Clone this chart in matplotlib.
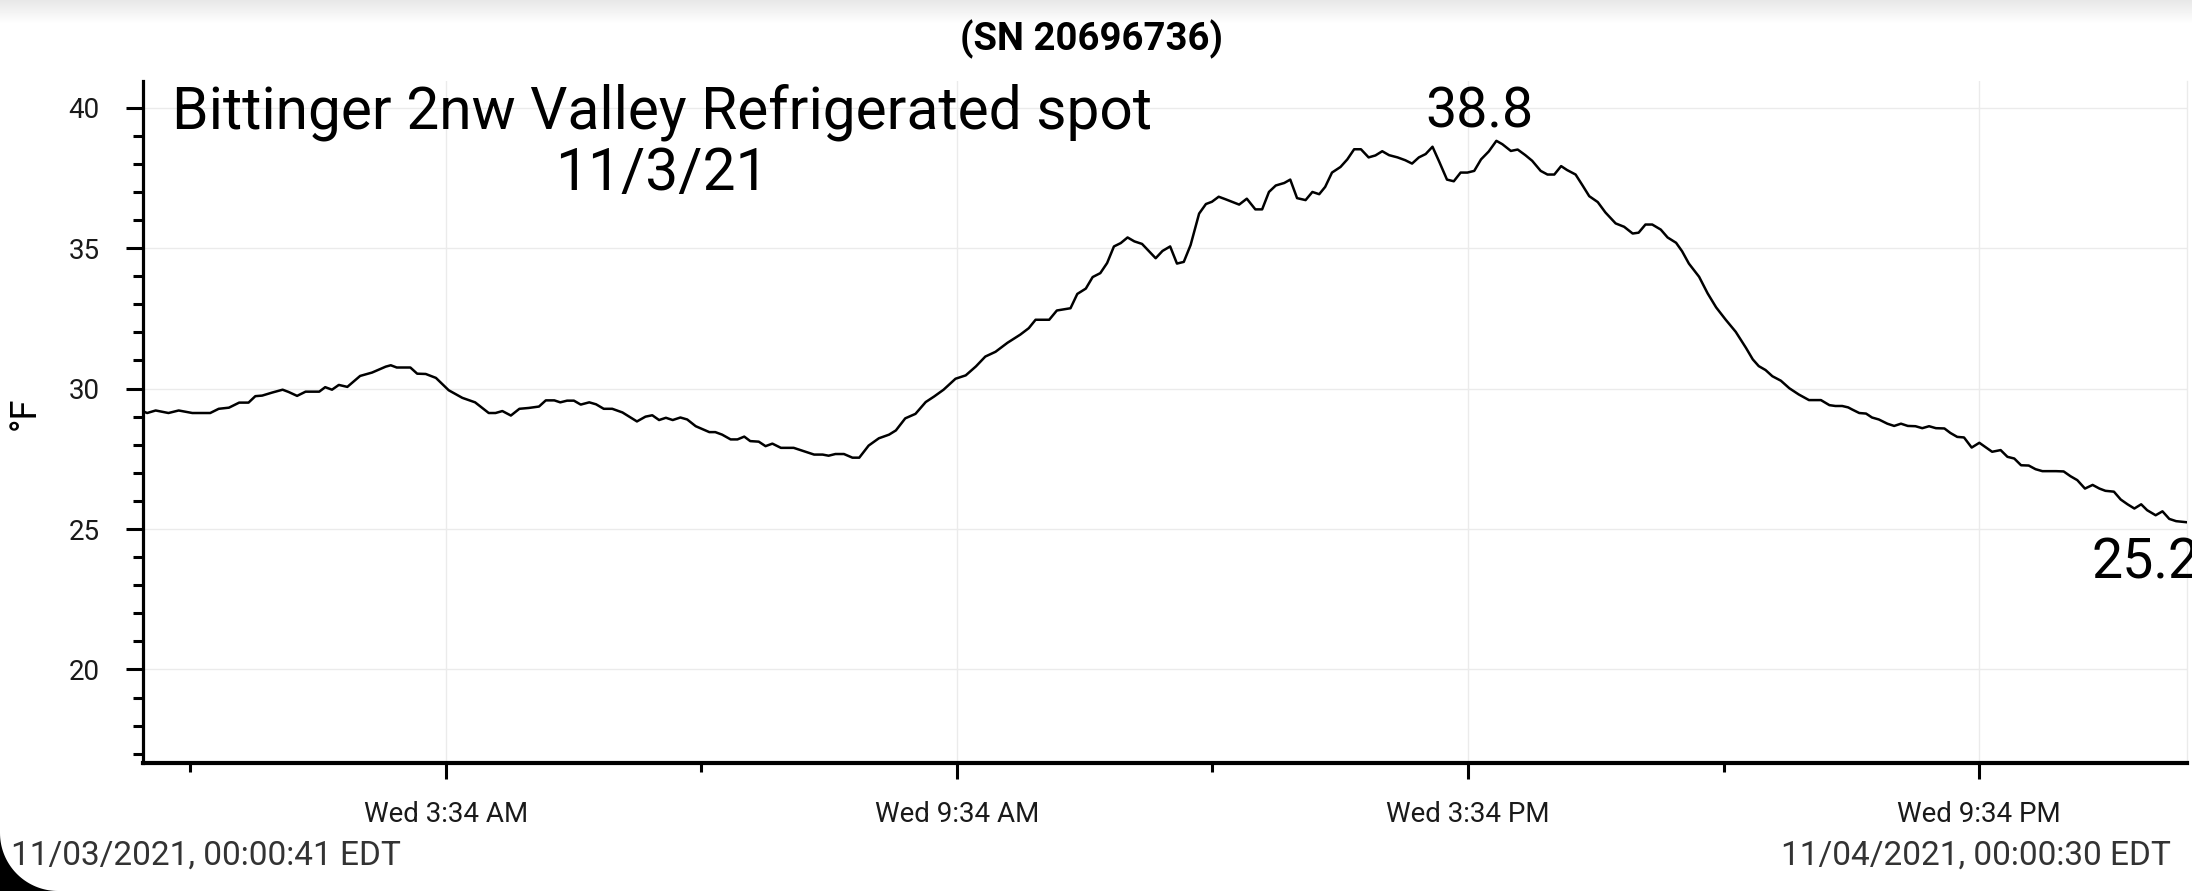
#!/usr/bin/env python3

import numpy as np
import pandas as pd
import matplotlib
matplotlib.use("Agg")
import matplotlib.pyplot as plt
import matplotlib.dates as mdates
from matplotlib.ticker import MultipleLocator
from matplotlib.patches import Polygon

# Logger readings, 11/3/21 (hours after midnight, deg F)
hours = [
    0.011, 0.06, 0.16, 0.31, 0.43, 0.59, 0.80, 0.90, 1.02, 1.14, 1.25, 1.33, 1.41, 1.53,
    1.65, 1.72, 1.82, 1.92, 2.08, 2.15, 2.23, 2.31, 2.41, 2.56, 2.70, 2.86, 2.92, 2.99,
    3.15, 3.23, 3.33, 3.45, 3.60, 3.76, 3.91, 4.07, 4.15, 4.23, 4.33, 4.43, 4.54, 4.66,
    4.74, 4.84, 4.91, 4.99, 5.07, 5.15, 5.25, 5.33, 5.42, 5.52, 5.64, 5.72, 5.81, 5.91,
    5.99, 6.07, 6.15, 6.23, 6.32, 6.40, 6.50, 6.66, 6.73, 6.81, 6.91, 6.99, 7.07, 7.14,
    7.24, 7.32, 7.40, 7.50, 7.65, 7.77, 7.89, 7.99, 8.06, 8.14, 8.24, 8.34, 8.42, 8.53,
    8.65, 8.77, 8.85, 8.96, 9.08, 9.20, 9.30, 9.41, 9.55, 9.67, 9.79, 9.90, 10.02, 10.16,
    10.31, 10.41, 10.49, 10.65, 10.74, 10.90, 10.98, 11.08, 11.16, 11.25, 11.33, 11.41,
    11.49, 11.57, 11.65, 11.74, 11.90, 11.98, 12.07, 12.15, 12.23, 12.31, 12.41, 12.49,
    12.56, 12.64, 12.72, 12.88, 12.97, 13.07, 13.15, 13.23, 13.31, 13.41, 13.48, 13.56,
    13.66, 13.74, 13.82, 13.89, 13.97, 14.07, 14.15, 14.23, 14.31, 14.40, 14.48, 14.56,
    14.64, 14.74, 14.83, 14.91, 14.99, 15.07, 15.15, 15.23, 15.32, 15.40, 15.48, 15.56,
    15.64, 15.72, 15.81, 15.90, 15.97, 16.07, 16.15, 16.24, 16.32, 16.42, 16.50, 16.58,
    16.66, 16.73, 16.83, 16.91, 16.99, 17.09, 17.18, 17.30, 17.40, 17.50, 17.57, 17.65,
    17.73, 17.83, 17.91, 18.01, 18.08, 18.16, 18.28, 18.38, 18.48, 18.59, 18.71, 18.83,
    18.91, 18.98, 19.06, 19.14, 19.24, 19.34, 19.45, 19.57, 19.71, 19.81, 19.88, 19.96,
    20.03, 20.08, 20.16, 20.24, 20.31, 20.39, 20.49, 20.57, 20.65, 20.73, 20.82, 20.90,
    20.98, 21.06, 21.16, 21.23, 21.31, 21.39, 21.48, 21.57, 21.65, 21.72, 21.82, 21.90,
    21.98, 22.06, 22.15, 22.23, 22.31, 22.39, 22.47, 22.56, 22.64, 22.72, 22.81, 22.90,
    22.98, 23.05, 23.15, 23.23, 23.31, 23.39, 23.47, 23.54, 23.64, 23.72, 23.80, 23.88,
    24.008,
]
temps = [
    29.19, 29.13, 29.22, 29.13, 29.22, 29.13, 29.13, 29.28, 29.32, 29.50, 29.50, 29.73, 29.75, 29.86,
    29.96, 29.88, 29.74, 29.89, 29.89, 30.05, 29.96, 30.13, 30.06, 30.45, 30.57, 30.78, 30.83, 30.75,
    30.75, 30.53, 30.52, 30.38, 29.94, 29.67, 29.51, 29.13, 29.13, 29.20, 29.04, 29.28, 29.31, 29.36,
    29.58, 29.58, 29.51, 29.57, 29.57, 29.43, 29.51, 29.44, 29.28, 29.28, 29.15, 29.00, 28.83, 29.00,
    29.05, 28.88, 28.96, 28.88, 28.97, 28.90, 28.66, 28.45, 28.45, 28.36, 28.19, 28.19, 28.29, 28.13,
    28.11, 27.95, 28.04, 27.89, 27.89, 27.77, 27.65, 27.65, 27.61, 27.67, 27.67, 27.54, 27.54, 27.97,
    28.23, 28.36, 28.51, 28.94, 29.10, 29.52, 29.72, 29.96, 30.35, 30.47, 30.79, 31.14, 31.31, 31.63,
    31.92, 32.15, 32.45, 32.45, 32.78, 32.86, 33.37, 33.56, 33.97, 34.11, 34.47, 35.06,
    35.18, 35.38, 35.24, 35.15, 34.64, 34.90, 35.06, 34.45, 34.51, 35.11, 36.23, 36.57,
    36.65, 36.83, 36.74, 36.55, 36.76, 36.38, 36.38, 37.00, 37.23, 37.32, 37.44, 36.78,
    36.71, 37.00, 36.92, 37.18, 37.69, 37.89, 38.16, 38.52, 38.52, 38.23, 38.30, 38.45,
    38.31, 38.23, 38.13, 38.01, 38.23, 38.35, 38.61, 38.07, 37.44, 37.38, 37.69, 37.69,
    37.75, 38.16, 38.44, 38.82, 38.70, 38.46, 38.51, 38.31, 38.11, 37.75, 37.62, 37.62,
    37.92, 37.78, 37.62, 37.24, 36.85, 36.64, 36.27, 35.88, 35.76, 35.52, 35.55, 35.84,
    35.84, 35.66, 35.38, 35.19, 34.89, 34.45, 33.98, 33.39, 32.89, 32.46, 32.02, 31.45,
    31.04, 30.80, 30.66, 30.44, 30.28, 30.01, 29.79, 29.59, 29.59, 29.41, 29.38, 29.38,
    29.33, 29.25, 29.13, 29.11, 28.97, 28.90, 28.75, 28.67, 28.75, 28.67, 28.66, 28.59,
    28.66, 28.59, 28.58, 28.42, 28.28, 28.26, 27.90, 28.07, 27.90, 27.75, 27.81, 27.57,
    27.51, 27.27, 27.26, 27.13, 27.06, 27.06, 27.06, 27.05, 26.88, 26.74, 26.44, 26.57,
    26.44, 26.36, 26.33, 26.05, 25.88, 25.73, 25.88, 25.67, 25.49, 25.63, 25.36, 25.28,
    25.24,
]

title = "(SN 20696736)"
note = "Bittinger 2nw Valley Refrigerated spot\n11/3/21"
start_label = "11/03/2021, 00:00:41 EDT"
end_label = "11/04/2021, 00:00:30 EDT"

W, H = 2192, 891
plt.rcParams['font.family'] = ['Roboto', 'DejaVu Sans']

times = pd.Timestamp('2021-11-03') + pd.to_timedelta(hours, unit='h')
times = times.to_pydatetime()

fig = plt.figure(figsize=(W / 100, H / 100), dpi=100)
ax = fig.add_axes([143 / W, 128 / H, (2187 - 143) / W, (763 - 81) / H])

ax.plot(times, temps, color='black', linewidth=1.8, zorder=3)

ax.set_xlim(times[0], times[-1])
ax.set_ylim(16.67, 40.95)

# time axis ticks every 6 h from 3:34, minor in between
major = pd.date_range('2021-11-03 03:34', periods=4, freq='6h').to_pydatetime()
minor = pd.date_range('2021-11-03 00:34', periods=4, freq='6h').to_pydatetime()
ax.set_xticks(mdates.date2num(major))
ax.set_xticks(mdates.date2num(minor), minor=True)
ax.xaxis.set_major_formatter(mdates.DateFormatter('%a %-I:%M %p'))

ax.yaxis.set_major_locator(MultipleLocator(5))
ax.yaxis.set_minor_locator(MultipleLocator(1))

ax.grid(True, which='major', color='#ebebeb', linewidth=1)
ax.set_axisbelow(True)

ax.spines['top'].set_visible(False)
ax.spines['right'].set_color('#ebebeb')
ax.spines['right'].set_linewidth(1)
ax.spines['left'].set_linewidth(2.3)
ax.spines['bottom'].set_linewidth(3)

ax.tick_params(axis='x', which='major', length=11.5, width=2.2, pad=16,
               labelsize=20, labelcolor='#1a1a1a')
ax.tick_params(axis='x', which='minor', length=6.5, width=2.2)
ax.tick_params(axis='y', which='major', length=12, width=2.2, pad=19,
               labelsize=20, labelcolor='#1a1a1a')
ax.tick_params(axis='y', which='minor', length=7, width=2.2)

# max / last value labels
imax = int(np.argmax(temps))
ax.annotate(f"{temps[imax]:.1f}", xy=(times[imax], temps[imax]), xytext=(-12, 21),
            textcoords='offset points', ha='center', va='center', fontsize=40)
ax.annotate(f"{temps[-1]:.1f}", xy=(times[-1], temps[-1]), xytext=(-30, -29),
            textcoords='offset points', ha='center', va='center', fontsize=40)

fig.text(662 / W, 1 - 143 / H, note, ha='center', va='center', fontsize=42.2,
         linespacing=1.08)
fig.text(1091 / W, 1 - 39 / H, title, ha='center', va='center', fontsize=27.5,
         fontweight='bold')
fig.text(25 / W, 1 - 413 / H, "°F", rotation=90, ha='center', va='center', fontsize=26)
fig.text(11 / W, 1 - 856 / H, start_label, ha='left', va='center', fontsize=24,
         color='#333333')
fig.text(2171 / W, 1 - 856 / H, end_label, ha='right', va='center', fontsize=24,
         color='#333333')

# screenshot bits: grey shade at top, rounded black corner bottom-left
shade = fig.add_axes([0, 1 - 24 / H, 1, 24 / H], zorder=-1)
shade.imshow(np.linspace(0.91, 1.0, 24).reshape(-1, 1), cmap='gray', vmin=0, vmax=1,
             aspect='auto')
shade.axis('off')

R = 58
th = np.linspace(0, np.pi / 2, 40)
arc = np.column_stack([R - R * np.cos(th), R - R * np.sin(th)])
corner = np.vstack([[[0, 0]], arc])
corner[:, 0] /= W
corner[:, 1] /= H
fig.add_artist(Polygon(corner, closed=True, facecolor='black', edgecolor='none',
                       transform=fig.transFigure))

fig.savefig("out.png", dpi=100)
